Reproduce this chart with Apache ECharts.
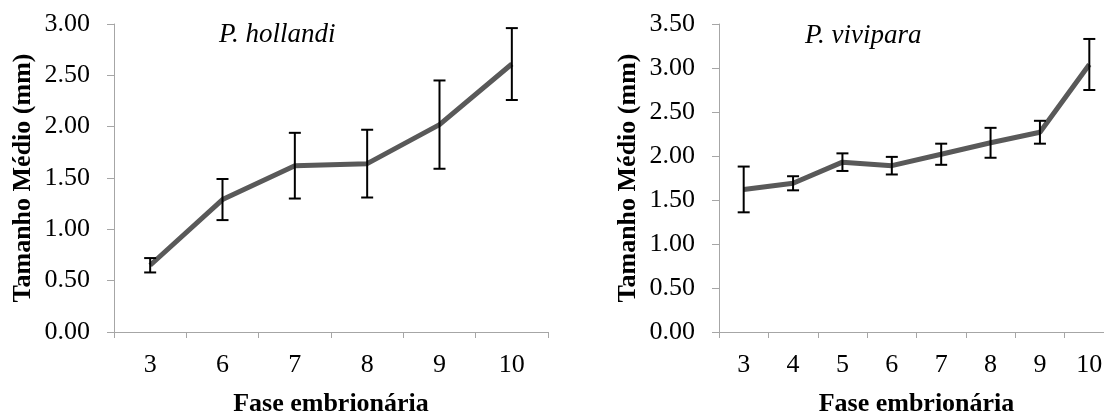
<!DOCTYPE html>
<html>
<head>
<meta charset="utf-8">
<script src="https://cdn.jsdelivr.net/npm/echarts@6/dist/echarts.min.js"></script>
<style>
  html, body { margin: 0; padding: 0; background: #fff; overflow: hidden; }
  #main { width: 1104px; height: 412px; }
</style>
</head>
<body>
<div id="main"></div>
<script>
// P. hollandi
const phCategories = ['3', '6', '7', '8', '9', '10']
const phMeans = [0.65, 1.29, 1.62, 1.64, 2.02, 2.61]
const phErrors = [0.07, 0.20, 0.32, 0.33, 0.43, 0.35]

// P. vivipara
const pvCategories = ['3', '4', '5', '6', '7', '8', '9', '10']
const pvMeans = [1.62, 1.69, 1.93, 1.89, 2.02, 2.15, 2.27, 3.04]
const pvErrors = [0.26, 0.08, 0.10, 0.10, 0.12, 0.17, 0.13, 0.29]

const serif = "'Liberation Serif', 'Times New Roman', serif"
const axisGray = '#a6a6a6'

// barras de erro
const toErrData = (means, errs) => means.map((m, i) => [i, m - errs[i], m + errs[i]])

const renderErr = (params, api) => {
  const x = api.value(0)
  const lo = api.coord([x, api.value(1)])
  const hi = api.coord([x, api.value(2)])
  const hw = 6
  const style = { stroke: '#000', lineWidth: 2 }
  return {
    type: 'group',
    children: [
      { type: 'line', shape: { x1: hi[0], y1: hi[1], x2: lo[0], y2: lo[1] }, style },
      { type: 'line', shape: { x1: hi[0] - hw, y1: hi[1], x2: hi[0] + hw, y2: hi[1] }, style },
      { type: 'line', shape: { x1: lo[0] - hw, y1: lo[1], x2: lo[0] + hw, y2: lo[1] }, style }
    ]
  }
}

const makeXAxis = (gridIndex, data) => ({
  type: 'category',
  gridIndex,
  data,
  boundaryGap: true,
  name: 'Fase embrionária',
  nameLocation: 'middle',
  nameGap: 59,
  nameTextStyle: { fontFamily: serif, fontSize: 26, fontWeight: 'bold', color: '#000' },
  axisLine: { lineStyle: { color: axisGray, width: 1 } },
  axisTick: { show: true, alignWithLabel: false, length: 6, lineStyle: { color: axisGray } },
  axisLabel: { fontFamily: serif, fontSize: 26, color: '#000', margin: 20, interval: 0 },
  splitLine: { show: false }
})

const makeYAxis = (gridIndex, max) => ({
  type: 'value',
  gridIndex,
  min: 0,
  max,
  interval: 0.5,
  name: 'Tamanho Médio (mm)',
  nameLocation: 'middle',
  nameRotate: 90,
  nameGap: 78,
  nameTextStyle: { fontFamily: serif, fontSize: 26, fontWeight: 'bold', color: '#000' },
  axisLine: { show: true, lineStyle: { color: axisGray, width: 1 } },
  axisTick: { show: true, length: 7, lineStyle: { color: axisGray } },
  axisLabel: { fontFamily: serif, fontSize: 26, color: '#000', margin: 24, formatter: v => v.toFixed(2) },
  splitLine: { show: false }
})

const chart = echarts.init(document.getElementById('main'))

const option = {
  animation: false,
  backgroundColor: '#fff',
  title: [
    { text: 'P. hollandi', left: 214, top: 16, textStyle: { fontFamily: serif, fontSize: 27, fontStyle: 'italic', fontWeight: 'normal', color: '#000' } },
    { text: 'P. vivipara', left: 800, top: 17, textStyle: { fontFamily: serif, fontSize: 27, fontStyle: 'italic', fontWeight: 'normal', color: '#000' } }
  ],
  grid: [
    { left: 114, top: 24, width: 434, height: 308, outerBoundsMode: 'none' },
    { left: 719, top: 24, width: 395, height: 308, outerBoundsMode: 'none' }
  ],
  xAxis: [makeXAxis(0, phCategories), makeXAxis(1, pvCategories)],
  yAxis: [makeYAxis(0, 3), makeYAxis(1, 3.5)],
  series: [
    {
      type: 'line', xAxisIndex: 0, yAxisIndex: 0, data: phMeans,
      symbol: 'none', lineStyle: { color: '#595959', width: 5 }, z: 2
    },
    {
      type: 'custom', xAxisIndex: 0, yAxisIndex: 0, data: toErrData(phMeans, phErrors),
      encode: { x: 0, y: [1, 2] }, renderItem: renderErr, z: 3
    },
    {
      type: 'line', xAxisIndex: 1, yAxisIndex: 1, data: pvMeans,
      symbol: 'none', lineStyle: { color: '#595959', width: 5 }, z: 2
    },
    {
      type: 'custom', xAxisIndex: 1, yAxisIndex: 1, data: toErrData(pvMeans, pvErrors),
      encode: { x: 0, y: [1, 2] }, renderItem: renderErr, z: 3
    }
  ]
}

chart.setOption(option)
</script>
</body>
</html>
